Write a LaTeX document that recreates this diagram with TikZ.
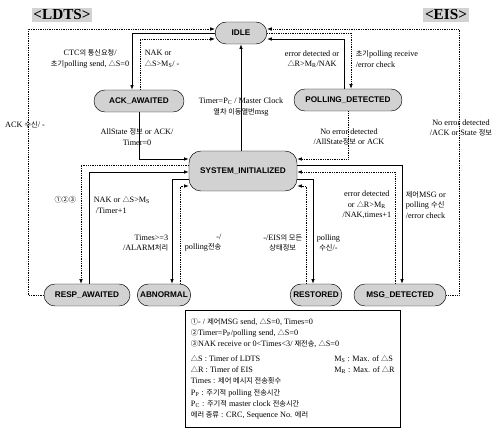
\documentclass[tikz,border=0pt]{standalone}
\usepackage{fontspec}
\setmainfont{Liberation Serif}
\setsansfont{Liberation Sans}
\newfontfamily\krfont[Scale=0.88]{Noto Sans CJK KR}
\newcommand{\kr}[1]{{\krfont #1}}
\newcommand{\tri}{{\krfont △}}
\usetikzlibrary{arrows.meta}

\begin{document}
\begin{tikzpicture}[x=0.03cm, y=-0.03cm,
  state/.style={draw, fill=gray!35, rounded corners=3.3mm, minimum height=6.6mm, inner sep=1pt, font=\sffamily\bfseries\fontsize{7}{8}\selectfont},
  side/.style={fill=gray!35, inner sep=1.5pt, font=\bfseries\fontsize{13}{14}\selectfont},
  lbl/.style={inner sep=0.5pt, align=center, font=\fontsize{7}{8.8}\selectfont},
  legend/.style={draw, align=left, inner sep=3pt, anchor=north west, minimum width=64.5mm, minimum height=35mm, font=\fontsize{7}{9.6}\selectfont},
  tr/.style={-{Latex[length=4pt,width=3pt]}, line width=0.6pt},
  dtr/.style={tr, line width=0.5pt, densely dotted}
]
\useasboundingbox (0,0) rectangle (496,428);

\node[side] (ldts) at (62,15) {<LDTS>};
\node[side] (eis) at (446,15) {<EIS>};

\node[state, minimum width=15.5mm] (idle) at (241,33) {IDLE};
\node[state, minimum width=27mm] (ack) at (139,101) {ACK\_AWAITED};
\node[state, minimum width=32.4mm] (poll) at (348,100) {POLLING\_DETECTED};
\node[state, minimum width=32.4mm, minimum height=12mm, rounded corners=3.6mm] (init) at (243,171) {SYSTEM\_INITIALIZED};
\node[state, minimum width=25.8mm] (resp) at (87,295) {RESP\_AWAITED};
\node[state, minimum width=16mm] (abn) at (164,295) {ABNORMAL};
\node[state, minimum width=15.5mm] (rest) at (316,295) {RESTORED};
\node[state, minimum width=27.6mm] (msg) at (400,295) {MSG\_DETECTED};

\coordinate (lt) at (28,29);
\coordinate (rt) at (459,29);
\coordinate (a1) at (132,33);
\coordinate (a2) at (140,39);
\coordinate (p1) at (351,33);
\coordinate (p2) at (344,39);
\coordinate (b1) at (139,159);
\coordinate (b2) at (348,159);
\coordinate (c1) at (81,165);
\coordinate (c2) at (89,172);
\coordinate (d1) at (172,179);
\coordinate (d2) at (180,186);
\coordinate (e1) at (306,186);
\coordinate (e2) at (313,179);
\coordinate (f1) at (402,165);
\coordinate (f2) at (395,172);

\draw[dtr] (resp.west) -| (lt) -- (lt -| idle.west);
\draw[dtr] (msg.east) -| (rt) -- (rt -| idle.east);
\draw[tr] (idle.west) -- (a1) -- (a1 |- ack.north);
\draw[dtr] (a2 |- ack.north) -- (a2) -- (a2 -| idle.west);
\draw[dtr] (idle.east) -- (p1) -- (p1 |- poll.north);
\draw[tr] (p2 |- poll.north) -- (p2) -- (p2 -| idle.east);
\draw[tr] (idle.south |- init.north) -- (idle.south);
\draw[tr] (ack.south) -- (b1) -- (b1 -| init.west);
\draw[dtr] (poll.south) -- (b2) -- (b2 -| init.east);
\draw[dtr] (c1 -| init.west) -- (c1) -- (c1 |- resp.north);
\draw[tr] (c2 |- resp.north) -- (c2) -- (c2 -| init.west);
\draw[tr] (d1 -| init.west) -- (d1) -- (d1 |- abn.north);
\draw[dtr] (d2 |- abn.north) -- (d2) -- (d2 -| init.west);
\draw[dtr] (e1 |- rest.north) -- (e1) -- (e1 -| init.east);
\draw[tr] (e2 -| init.east) -- (e2) -- (e2 |- rest.north);
\draw[tr] (f1 -| init.east) -- (f1) -- (f1 |- msg.north);
\draw[dtr] (f2 |- msg.north) -- (f2) -- (f2 -| init.east);

\node[lbl, anchor=east] (l1) at (130,59) {CTC\kr{의 통신요청}/\\\kr{초기}polling send, \tri S=0};
\node[lbl, anchor=west, align=left] (l2) at (144,59) {NAK or\\\tri S>M\textsubscript{S}/ -};
\node[lbl, anchor=east] (l3) at (340,59) {error detected or\\\tri R>M\textsubscript{R}/NAK};
\node[lbl, anchor=west, align=left] (l4) at (355,59) {\kr{초기}polling receive\\/error check};
\node[lbl] (l5) at (241,107) {Timer=P\textsubscript{C} / Master Clock\\\kr{열차 이동열번}msg};
\node[lbl] (l6) at (25,125) {ACK \kr{수신}/ -};
\node[lbl] (l7) at (137,137) {AllState \kr{정보} or ACK/\\Timer=0};
\node[lbl] (l8) at (349,137) {No error detected\\/AllState\kr{정보} or ACK};
\node[lbl] (l9) at (461,128) {No error detected\\/ACK or State \kr{정보}};
\node[lbl, anchor=east] (l10) at (77,200) {\kr{①②③}};
\node[lbl, anchor=west, align=left] (l11) at (93,205) {NAK or \tri S>M\textsubscript{S}\\\ /Timer+1};
\node[lbl, anchor=east, align=right] (l12) at (169,243) {Times>=3\\/ALARM\kr{처리}};
\node[lbl, anchor=west, align=right] (l13) at (184,243) {-/\\polling\kr{전송}};
\node[lbl, anchor=east] (l14) at (303,243) {-/EIS\kr{의 모든}\\\kr{상태정보}};
\node[lbl, anchor=west] (l15) at (316,243) {polling\\\kr{수신}/-};
\node[lbl, anchor=east] (l16) at (392,205) {error detected\\or \tri R>M\textsubscript{R}\\/NAK,times+1};
\node[lbl, anchor=west, align=left] (l17) at (405,205) {\kr{제어}MSG or\\polling \kr{수신}\\/error check};

\node[legend] (key) at (185,310) {%
\kr{①}- / \kr{제어}MSG send, \tri S=0, Times=0\\
\kr{②}Timer=P\textsubscript{P}/polling send, \tri S=0\\
\kr{③}NAK receive or 0<Times<3/ \kr{재전송}, \tri S=0\\[3pt]
\makebox[43mm][l]{\tri S : Timer of LDTS}M\textsubscript{S} : Max. of \tri S\\
\makebox[43mm][l]{\tri R : Timer of EIS}M\textsubscript{R} : Max. of \tri R\\
Times : \kr{제어 메시지 전송횟수}\\
P\textsubscript{P} : \kr{주기적} polling \kr{전송시간}\\
P\textsubscript{C} : \kr{주기적} master clock \kr{전송시간}\\
\kr{에러 종류} : CRC, Sequence No. \kr{에러}};
\end{tikzpicture}
\end{document}
